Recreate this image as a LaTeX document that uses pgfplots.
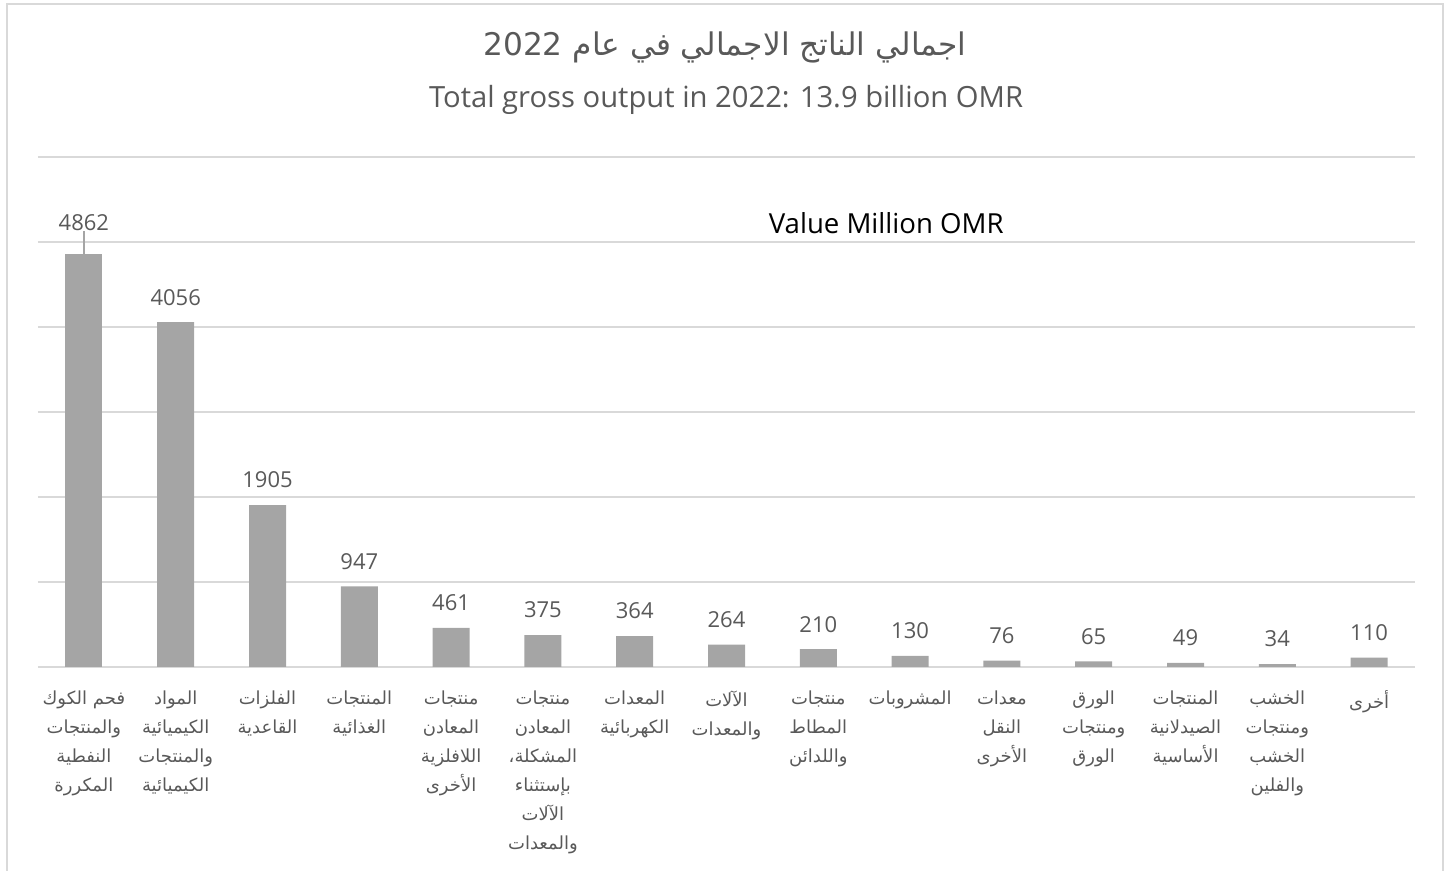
\documentclass[border=0pt]{standalone}
\usepackage{fontspec}
\setmainfont{Open Sans}
\newfontfamily\arabicfont[Script=Arabic]{DejaVu Sans}
\TeXXeTstate=1
\usepackage{pgfplots}
\pgfplotsset{compat=1.18}

\definecolor{bargray}{HTML}{A5A5A5}
\definecolor{gridgray}{HTML}{D9D9D9}
\definecolor{txtgray}{HTML}{595959}

\newcommand{\R}[1]{\beginR #1\endR}

\begin{document}
\begin{tikzpicture}
% 1px of the reference = 0.5pt
\path[use as bounding box] (0,0) rectangle (724pt,435.5pt);
\draw[gridgray, line width=1pt] (3.5pt,-2pt) -- (3.5pt,433.5pt) -- (721.5pt,433.5pt) -- (721.5pt,-2pt);

\node[text=txtgray, font=\arabicfont\fontsize{15.6}{18}\selectfont] at (362.5pt,412pt)
  {\beginR اجمالي الناتج الاجمالي في عام \beginL 2022\endL\endR};
\node[text=txtgray, font=\fontsize{14.6}{17}\selectfont] at (363pt,385.5pt)
  {Total gross output in 2022: 13.9 billion OMR};

\begin{axis}[
  at={(19pt,102pt)}, anchor=south west,
  scale only axis,
  width=688.5pt, height=255pt,
  ybar, bar width=18.5pt, bar shift=0pt,
  xmin=-0.5, xmax=14.5,
  ymin=0, ymax=6000,
  ytick={0,1000,...,6000}, yticklabels={},
  ymajorgrids, grid style={gridgray, line width=0.75pt},
  axis line style={draw=none},
  major tick style={draw=none},
  xtick={0,...,14},
  xticklabels={
    {\beginR فحم الكوك\endR\\\R{والمنتجات}\\\R{النفطية}\\\R{المكررة}},
    {\R{المواد}\\\R{الكيميائية}\\\R{والمنتجات}\\\R{الكيميائية}},
    {\R{الفلزات}\\\R{القاعدية}},
    {\R{المنتجات}\\\R{الغذائية}},
    {\R{منتجات}\\\R{المعادن}\\\R{اللافلزية}\\\R{الأخرى}},
    {\R{منتجات}\\\R{المعادن}\\\R{المشكلة،}\\\R{بإستثناء}\\\R{الآلات}\\\R{والمعدات}},
    {\R{المعدات}\\\R{الكهربائية}},
    {\R{الآلات}\\\R{والمعدات}},
    {\R{منتجات}\\\R{المطاط}\\\R{واللدائن}},
    {\R{المشروبات}},
    {\R{معدات}\\\R{النقل}\\\R{الأخرى}},
    {\R{الورق}\\\R{ومنتجات}\\\R{الورق}},
    {\R{المنتجات}\\\R{الصيدلانية}\\\R{الأساسية}},
    {\R{الخشب}\\\R{ومنتجات}\\\R{الخشب}\\\R{والفلين}},
    {\R{أخرى}}
  },
  xticklabel style={font=\arabicfont\fontsize{9}{14.5}\selectfont, text=txtgray,
    align=center, anchor=north, yshift=-4pt},
  /pgf/number format/.cd, 1000 sep={}, assume math mode=true, /pgfplots/.cd,
  nodes near coords style={font=\fontsize{11}{13}\selectfont, text=txtgray,
    anchor=center, yshift=12.5pt},
  clip=false,
]
\addplot[fill=bargray, draw=none, nodes near coords] coordinates {
  (1,4056) (2,1905) (3,947) (4,461) (5,375) (6,364) (7,264)
  (8,210) (9,130) (10,76) (11,65) (12,49) (13,34) (14,110)};
\addplot[fill=bargray, draw=none, nodes near coords,
  nodes near coords style={yshift=3pt}] coordinates {(0,4862)};
\draw[bargray, line width=0.75pt] (axis cs:0,4862) -- (axis cs:0,5125);
\node[font=\fontsize{13.8}{16}\selectfont, text=black] at (axis cs:8.74,5217) {Value Million OMR};
\end{axis}
\end{tikzpicture}
\end{document}
